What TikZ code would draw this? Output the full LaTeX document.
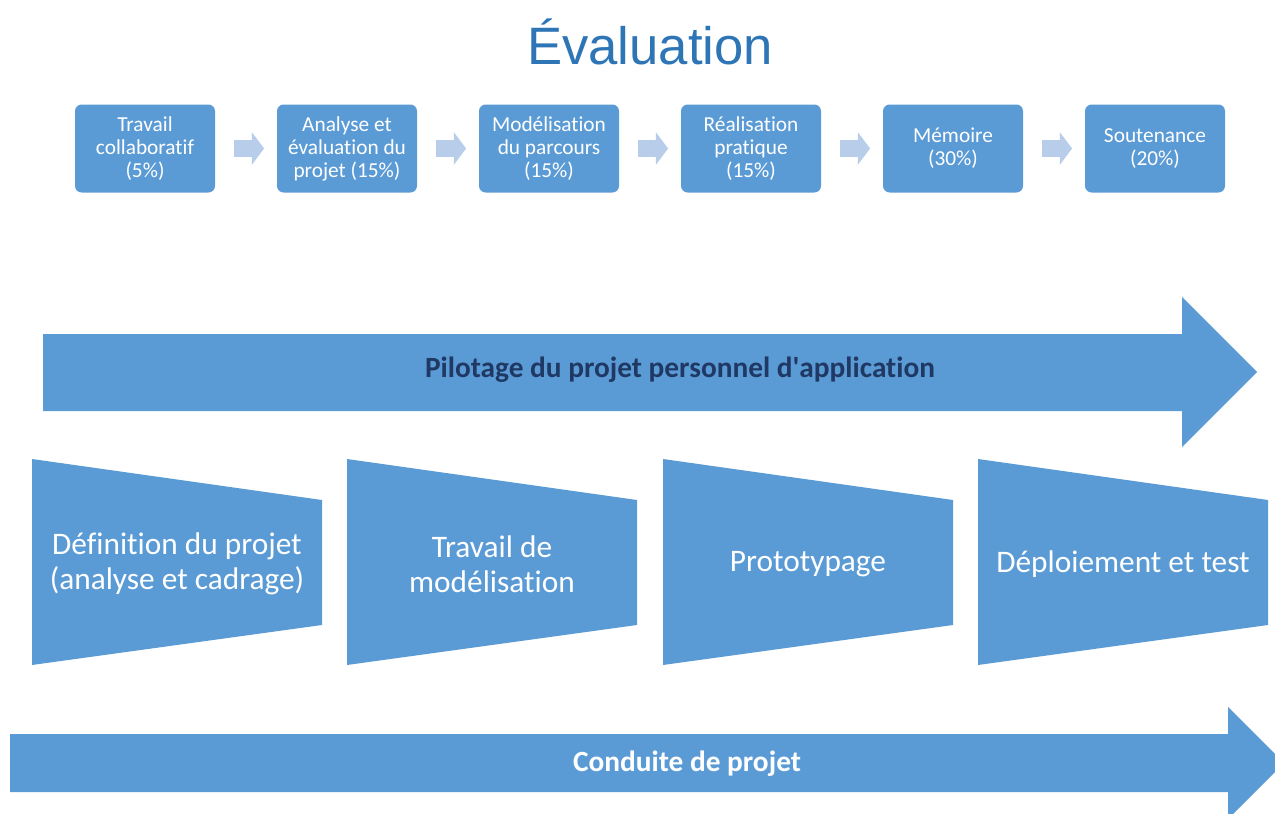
\documentclass[tikz,border=0pt]{standalone}
\usepackage{fontspec}
\setmainfont{Carlito}[Ligatures={NoCommon}]
\newfontfamily\titlefont{Liberation Sans}
\usetikzlibrary{positioning,shapes.arrows}
\definecolor{boxblue}{HTML}{5B9BD5}
\definecolor{paleblue}{HTML}{B7CDEA}
\definecolor{titleblue}{HTML}{2E75B6}
\definecolor{navyblue}{HTML}{1F3864}
\tikzstyle{stage} = [rectangle, fill=boxblue, text=white, align=center, rounded corners=5pt, inner sep=0pt, minimum width=105pt, minimum height=66pt, font=\fontsize{16}{17.3}\selectfont]
\tikzstyle{smallarrow} = [single arrow, fill=paleblue, inner xsep=0pt, inner ysep=6pt, minimum height=22.5pt, single arrow head extend=6pt, single arrow tip angle=106]
\tikzstyle{bigarrow} = [fill=boxblue]
\tikzstyle{phase} = [fill=boxblue]
\tikzstyle{phaselabel} = [text=white, align=center, font=\fontsize{23.5}{26.3}\selectfont]

\begin{document}
\begin{tikzpicture}[x=0.75pt, y=-0.75pt, node distance=151.5pt]
    \useasboundingbox (0,0) rectangle (1275,814);
    \clip (0,0) rectangle (1275,814);
    \node [anchor=base, text=titleblue, font=\titlefont\fontsize{39.5}{44}\selectfont] (title) at (650,64) {Évaluation};
    % evaluation steps
    \node [stage] (s1) at (145,148.5) {Travail\\collaboratif\\(5\%)};
    \node [stage, right of=s1] (s2) {Analyse et\\évaluation du\\projet (15\%)};
    \node [stage, right of=s2] (s3) {Modélisation\\du parcours\\(15\%)};
    \node [stage, right of=s3] (s4) {Réalisation\\pratique\\(15\%)};
    \node [stage, right of=s4] (s5) {Mémoire\\(30\%)};
    \node [stage, right of=s5] (s6) {Soutenance\\(20\%)};
    \foreach \a/\b in {s1/s2,s2/s3,s3/s4,s4/s5,s5/s6}
        \path (\a.east) -- (\b.west) node [midway, smallarrow] {};
    % pilotage
    \path [bigarrow] (43,334) -- (1182,334) -- (1182,297) -- (1257,372) -- (1182,447) -- (1182,411) -- (43,411) -- cycle;
    \node [text=navyblue, font=\bfseries\fontsize{22}{26}\selectfont] (pilotage) at (680,370) {Pilotage du projet personnel d\textquotesingle application};
    % phases
    \foreach \i/\x/\txt in {1/32/{Définition du projet\\(analyse et cadrage)}, 2/347/{Travail de\\modélisation}, 3/663/{Prototypage}, 4/978/{Déploiement et test}} {
        \path [phase] (\x,459) -- ++(290,41) -- ++(0,125) -- ++(-290,40) -- cycle;
        \node [phaselabel] (p\i) at (\x+145,564) {\txt};
    }
    % conduite
    \path [bigarrow] (10,734) -- (1228,734) -- (1228,707) -- (1284,763) -- (1228,819) -- (1228,792) -- (10,792) -- cycle;
    \node [text=white, font=\bfseries\fontsize{22}{26}\selectfont] (conduite) at (687,764) {Conduite de projet};
\end{tikzpicture}
\end{document}
